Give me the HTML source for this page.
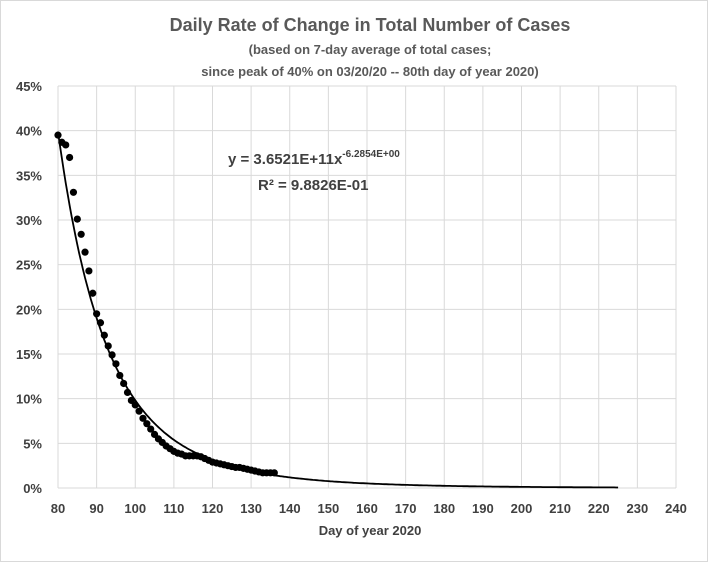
<!DOCTYPE html><html><head><style>body{margin:0;background:#fff}</style></head><body>
<svg id="s" width="708" height="562" xmlns="http://www.w3.org/2000/svg" font-family="Liberation Sans, sans-serif">
<rect x="0.5" y="0.5" width="707" height="561" fill="#fff" stroke="#d9d9d9"/>
<text x="370" y="31" text-anchor="middle" font-size="18" font-weight="bold" fill="#595959">Daily Rate of Change in Total Number of Cases</text>
<text x="370" y="54" text-anchor="middle" font-size="13" font-weight="bold" fill="#595959">(based on 7-day average of total cases;</text>
<text x="370" y="76" text-anchor="middle" font-size="13" font-weight="bold" fill="#595959">since peak of 40% on 03/20/20 -- 80th day of year 2020)</text>
<g id="g"></g>
<text x="228" y="164" font-size="15" font-weight="bold" fill="#404040">y = 3.6521E+11x<tspan dy="-7" font-size="10">-6.2854E+00</tspan></text>
<text x="258" y="190" font-size="15" font-weight="bold" fill="#404040">R² = 9.8826E-01</text>
<text x="370" y="535" text-anchor="middle" font-size="13" font-weight="bold" fill="#404040">Day of year 2020</text>
</svg>
<script>
var g=document.getElementById('g'),h='';
function X(d){return 58+(d-80)*618/160}function Y(p){return 488-p*402/45}
for(var i=0;i<=16;i++){var x=X(80+i*10);h+='<line x1="'+x+'" y1="86" x2="'+x+'" y2="488" stroke="#d9d9d9"/>';h+='<text x="'+x+'" y="513" text-anchor="middle" font-size="13" font-weight="bold" fill="#404040">'+(80+i*10)+'</text>';}
for(var j=0;j<=9;j++){var y=Y(j*5);h+='<line x1="58" y1="'+y+'" x2="676" y2="'+y+'" stroke="#d9d9d9"/>';h+='<text x="42" y="'+(y+5)+'" text-anchor="end" font-size="13" font-weight="bold" fill="#404040">'+(j*5)+'%</text>';}
var p='';for(var d=80;d<=225;d+=0.5){var v=100*Math.exp(Math.log(3.6521e11)-6.2854*Math.log(d));p+=(d==80?'M':'L')+X(d).toFixed(1)+','+Y(v).toFixed(1);}
h+='<path d="'+p+'" fill="none" stroke="#000" stroke-width="1.8"/>';
var D=[39.5,38.7,38.4,37,33.1,30.1,28.4,26.4,24.3,21.8,19.5,18.5,17.1,15.9,14.9,13.9,12.6,11.7,10.7,9.8,9.3,8.6,7.8,7.2,6.6,6.0,5.5,5.1,4.7,4.4,4.1,3.9,3.8,3.6,3.6,3.6,3.6,3.5,3.3,3.1,2.9,2.8,2.7,2.6,2.5,2.4,2.3,2.3,2.2,2.1,2.0,1.9,1.8,1.7,1.7,1.7,1.7];
for(var k=0;k<D.length;k++)h+='<circle cx="'+X(80+k)+'" cy="'+Y(D[k])+'" r="3.6" fill="#000"/>';
g.innerHTML=h;
</script></body></html>
